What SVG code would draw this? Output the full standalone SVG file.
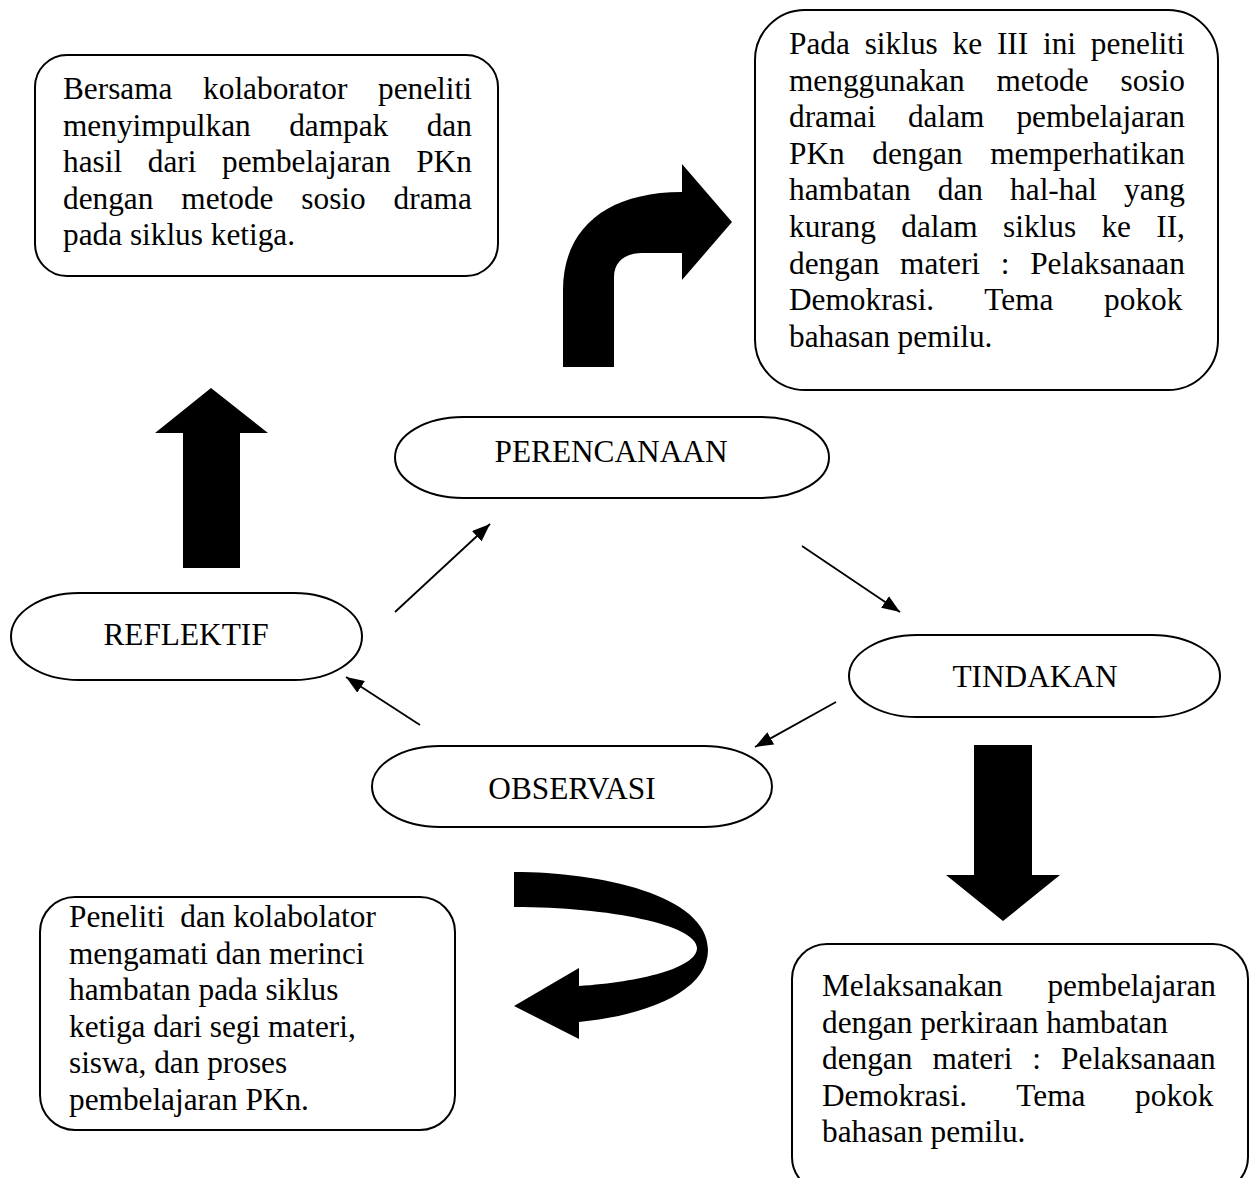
<svg xmlns="http://www.w3.org/2000/svg" width="1250" height="1178" viewBox="0 0 1250 1178">
<style>
  .box { fill: #fff; stroke: #000; stroke-width: 2; }
  .t { font-family: "Liberation Serif", "Times New Roman", serif; font-size: 31.3px; fill: #000; }
  .lbl { font-family: "Liberation Serif", "Times New Roman", serif; font-size: 31.3px; fill: #000; text-anchor: middle; }
  .conn { stroke: #000; stroke-width: 1.8; fill: none; marker-end: url(#ah); }
  .block { fill: #000; stroke: none; }
</style>
<defs>
  <marker id="ah" viewBox="0 0 10 10" refX="10" refY="5" markerWidth="18" markerHeight="14" markerUnits="userSpaceOnUse" orient="auto" preserveAspectRatio="none">
    <path d="M0,0 L10,5 L0,10 Z" fill="#000"/>
  </marker>
</defs>
<rect width="1250" height="1178" fill="#fff"/>

<g id="box-refleksi">
  <rect class="box" x="35" y="55" width="463" height="221" rx="32" ry="32"/>
  <text class="t" x="63" y="99" word-spacing="22.8">Bersama kolaborator peneliti</text>
  <text class="t" x="63" y="135.6" word-spacing="30.6">menyimpulkan dampak dan</text>
  <text class="t" x="63" y="172.2" word-spacing="17.8">hasil dari pembelajaran PKn</text>
  <text class="t" x="63" y="208.8" word-spacing="20.1">dengan metode sosio drama</text>
  <text class="t" x="63" y="245.4">pada siklus ketiga.</text>
</g>

<g id="box-perencanaan">
  <rect class="box" x="755" y="10" width="463" height="380" rx="50" ry="50"/>
  <text class="t" x="789" y="54" word-spacing="7.0">Pada siklus ke III ini peneliti</text>
  <text class="t" x="789" y="90.6" word-spacing="24.1">menggunakan metode sosio</text>
  <text class="t" x="789" y="127.2" word-spacing="24.2">dramai dalam pembelajaran</text>
  <text class="t" x="789" y="163.8" word-spacing="19.8">PKn dengan memperhatikan</text>
  <text class="t" x="789" y="200.4" word-spacing="19.3">hambatan dan hal-hal yang</text>
  <text class="t" x="789" y="237" word-spacing="17.5">kurang dalam siklus ke II,</text>
  <text class="t" x="789" y="273.6" word-spacing="12.9">dengan materi : Pelaksanaan</text>
  <text class="t" x="789" y="310.2" word-spacing="42.9">Demokrasi. Tema pokok</text>
  <text class="t" x="789" y="346.8">bahasan pemilu.</text>
</g>

<g id="box-observasi">
  <rect class="box" x="40" y="897" width="415" height="233" rx="35" ry="35"/>
  <text class="t" x="69" y="927" xml:space="preserve">Peneliti  dan kolabolator</text>
  <text class="t" x="69" y="963.6">mengamati dan merinci</text>
  <text class="t" x="69" y="1000.2">hambatan pada siklus</text>
  <text class="t" x="69" y="1036.8">ketiga dari segi materi,</text>
  <text class="t" x="69" y="1073.4">siswa, dan proses</text>
  <text class="t" x="69" y="1110">pembelajaran PKn.</text>
</g>

<g id="box-tindakan">
  <rect class="box" x="792" y="944" width="456" height="248" rx="35" ry="35"/>
  <text class="t" x="822" y="996" word-spacing="36.8">Melaksanakan pembelajaran</text>
  <text class="t" x="822" y="1032.6">dengan perkiraan hambatan</text>
  <text class="t" x="822" y="1069.2" word-spacing="12.2">dengan materi : Pelaksanaan</text>
  <text class="t" x="822" y="1105.8" word-spacing="41.9">Demokrasi. Tema pokok</text>
  <text class="t" x="822" y="1142.4">bahasan pemilu.</text>
</g>

<g id="node-perencanaan">
  <rect class="box" x="395" y="417" width="434" height="81" rx="68" ry="40.5"/>
  <text class="lbl" x="611" y="462">PERENCANAAN</text>
</g>
<g id="node-reflektif">
  <rect class="box" x="11" y="593" width="351" height="87" rx="68" ry="43.5"/>
  <text class="lbl" x="186" y="645">REFLEKTIF</text>
</g>
<g id="node-tindakan">
  <rect class="box" x="849" y="635" width="371" height="82" rx="68" ry="41"/>
  <text class="lbl" x="1035" y="687">TINDAKAN</text>
</g>
<g id="node-observasi">
  <rect class="box" x="372" y="746" width="400" height="81" rx="68" ry="40.5"/>
  <text class="lbl" x="572" y="799">OBSERVASI</text>
</g>

<g id="connectors">
  <line class="conn" x1="395" y1="612" x2="490" y2="524"/>
  <line class="conn" x1="802" y1="546" x2="900" y2="612"/>
  <line class="conn" x1="836" y1="702" x2="755" y2="747"/>
  <line class="conn" x1="420" y1="725" x2="346" y2="677"/>
  <path class="block" d="M183,568 L183,433 L155,433 L211,388 L268,433 L240,433 L240,568 Z"/>
  <path class="block" d="M974,745 L1032,745 L1032,875 L1060,875 L1003,921 L946,875 L974,875 Z"/>
  <path class="block" d="M563,367 L563,290 C563,230 605,192 682,192 L682,164 L732,222 L682,280 L682,253 L642,253 C626,253 614,261 614,277 L614,367 Z"/>
  <path class="block" d="M514,872 C600,872 708,895 708,950 C708,990 650,1015 579,1022 L579,1039 L514,1006 L579,968 L579,986 C640,982 697,968 697,948 C697,925 610,907 514,907 Z"/>
</g>
</svg>
